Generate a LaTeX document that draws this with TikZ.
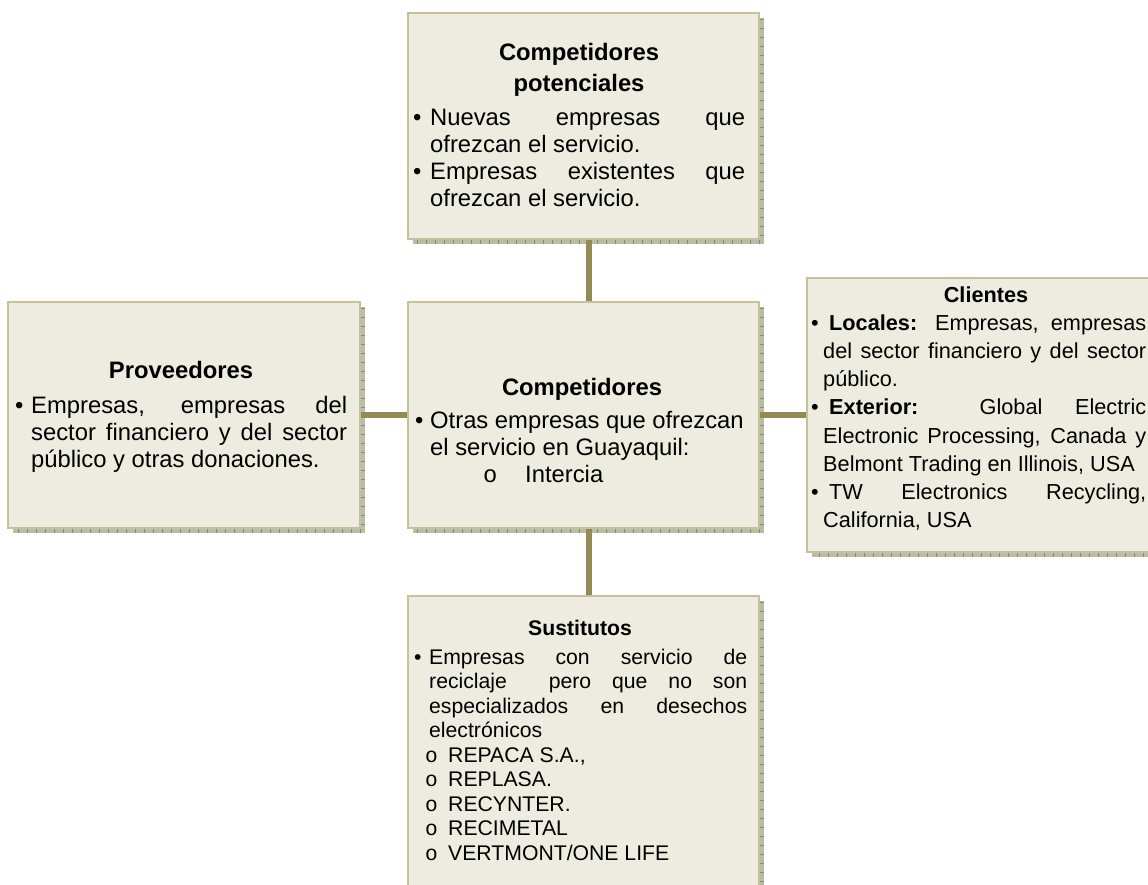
\documentclass[tikz,border=0pt]{standalone}
\usepackage{fontspec}
\setmainfont{Liberation Sans}
\newfontfamily\cour{Liberation Mono}
\usetikzlibrary{backgrounds}
\definecolor{boxfill}{HTML}{EEECE1}
\definecolor{boxline}{HTML}{C7C09B}
\definecolor{conn}{HTML}{948A54}
\definecolor{shad}{HTML}{BABDA5}
\definecolor{shadtick}{HTML}{7D9268}
\newcommand\bl[1]{\makebox[#1][l]{\textbullet}}
\newcommand\sj[2]{\makebox[#1][s]{#2}}
\newcommand\sub[2]{\hspace*{#1}\makebox[23pt][l]{\cour o}#2}
\begin{document}
\begin{tikzpicture}[x=1pt,y=-1pt,
  box/.style={draw=boxline, line width=2.5pt, fill=boxfill, anchor=north west, inner sep=0pt, outer sep=0pt},
  link/.style={draw=conn, line width=5.5pt},
  body/.style={anchor=base west, inner sep=0pt},
  ttl/.style={anchor=base, inner sep=0pt, font=\bfseries}]
\useasboundingbox (0,0) rectangle (1148,884);
% boxes
\node[box, minimum width=351pt, minimum height=226pt] (pot) at (408,13) {};
\node[box, minimum width=352pt, minimum height=226pt] (prov) at (8,302) {};
\node[box, minimum width=351pt, minimum height=226pt] (comp) at (408,302) {};
\node[box, minimum width=360pt, minimum height=274pt] (cli) at (807,278) {};
\node[box, minimum width=351pt, minimum height=310pt] (sus) at (408,596) {};
\begin{pgfonlayer}{background}
\foreach \b in {pot,prov,comp,cli,sus}{
  \fill[shad] ([shift={(5,5)}]\b.north west) rectangle ([shift={(5,5)}]\b.south east);
  \draw[shadtick, line width=3.5pt, dash pattern=on 1pt off 8pt]
    ([shift={(3.2,6)}]\b.north east) -- ([shift={(3.2,3.2)}]\b.south east) -- ([shift={(6,3.2)}]\b.south west);
}
\draw[link] ([xshift=5.5pt]pot.south) -- ([xshift=5.5pt]comp.north);
\draw[link] (prov.east) -- (comp.west);
\draw[link] (comp.east) -- (cli.west);
\draw[link] ([xshift=5.5pt]comp.south) -- ([xshift=5.5pt]sus.north);
\end{pgfonlayer}
% Competidores potenciales
\node[ttl] (potT) at (579,60) {\parbox[t]{320pt}{\centering\fontsize{23.8}{31}\selectfont\lineskiplimit=-50pt Competidores\\potenciales}};
\node[body] (potB) at (413,125) {\parbox[t]{332pt}{\fontsize{23.8}{27}\selectfont\lineskiplimit=-50pt\noindent
\bl{17pt}\sj{315pt}{Nuevas empresas que}\\
\hspace*{17pt}ofrezcan el servicio.\\
\bl{17pt}\sj{315pt}{Empresas existentes que}\\
\hspace*{17pt}ofrezcan el servicio.}};
% Proveedores
\node[ttl] (provT) at (181,378) {\fontsize{23.8}{27}\selectfont Proveedores};
\node[body] (provB) at (15,413) {\parbox[t]{332pt}{\fontsize{23.8}{27}\selectfont\lineskiplimit=-50pt\noindent
\bl{16pt}\sj{316pt}{Empresas, empresas del}\\
\hspace*{16pt}\sj{316pt}{sector financiero y del sector}\\
\hspace*{16pt}público y otras donaciones.}};
% Competidores
\node[ttl] (compT) at (582,395) {\fontsize{23.8}{27}\selectfont Competidores};
\node[body] (compB) at (415,428) {\parbox[t]{340pt}{\fontsize{23.8}{27}\selectfont\lineskiplimit=-50pt\noindent
\bl{15pt}Otras empresas que ofrezcan\\
\hspace*{15pt}el servicio en Guayaquil:\\
\hspace*{68pt}\makebox[42pt][l]{\cour o}Intercia}};
% Clientes
\node[ttl] (cliT) at (986,302) {\fontsize{21.7}{28}\selectfont Clientes};
\node[body] (cliB) at (811,330) {\parbox[t]{335pt}{\fontsize{21.7}{28.25}\selectfont\lineskiplimit=-50pt\noindent
\bl{18pt}\sj{317pt}{\textbf{Locales:} Empresas, empresas}\\
\hspace*{12pt}\sj{323pt}{del sector financiero y del sector}\\
\hspace*{12pt}público.\\
\bl{18pt}\sj{317pt}{\textbf{Exterior:} Global Electric}\\
\hspace*{12pt}\sj{323pt}{Electronic Processing, Canada y}\\
\hspace*{12pt}Belmont Trading en Illinois, USA\\
\bl{18pt}\sj{317pt}{TW Electronics Recycling,}\\
\hspace*{12pt}California, USA}};
% Sustitutos
\node[ttl] (susT) at (580,635) {\fontsize{21.2}{24.5}\selectfont Sustitutos};
\node[body] (susB) at (414,664) {\parbox[t]{333pt}{\fontsize{21.2}{24.5}\selectfont\lineskiplimit=-50pt\noindent
\bl{15pt}\sj{318pt}{Empresas con servicio de}\\
\hspace*{15pt}\sj{318pt}{reciclaje \ pero que no son}\\
\hspace*{15pt}\sj{318pt}{especializados en desechos}\\
\hspace*{15pt}electrónicos\\
\sub{11pt}{REPACA S.A.,}\\
\sub{11pt}{REPLASA.}\\
\sub{11pt}{RECYNTER.}\\
\sub{11pt}{RECIMETAL}\\
\sub{11pt}{VERTMONT/ONE LIFE}}};
\end{tikzpicture}
\end{document}
